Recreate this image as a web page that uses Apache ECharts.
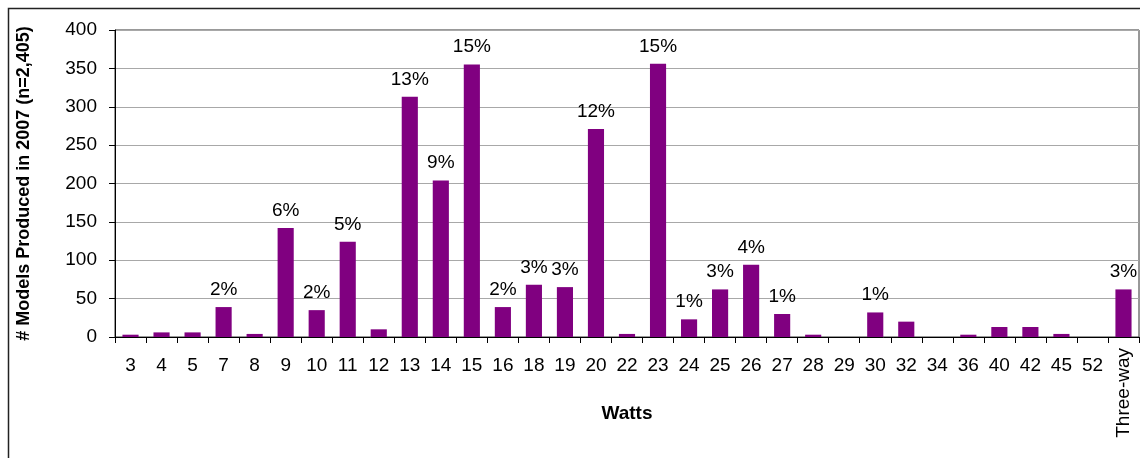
<!DOCTYPE html>
<html>
<head>
<meta charset="utf-8">
<title>Models Produced in 2007 by Wattage</title>
<script src="https://cdn.jsdelivr.net/npm/echarts@6/dist/echarts.min.js"></script>
<style>
  html, body { margin: 0; padding: 0; background: #ffffff; }
  #chart { width: 1140px; height: 458px; }
</style>
</head>
<body>
<div id="chart"></div>
<script>
// Wattage categories on the horizontal axis
const watts = ['3', '4', '5', '7', '8', '9', '10', '11', '12', '13', '14', '15', '16',
  '18', '19', '20', '22', '23', '24', '25', '26', '27', '28', '29', '30', '32', '34',
  '36', '40', '42', '45', '52', 'Three-way'];

// Number of models produced in 2007 for each wattage (n = 2,405)
const models = [3, 6, 6, 39, 4, 142, 35, 124, 10, 313, 204, 355, 39,
  68, 65, 271, 4, 356, 23, 62, 94, 30, 3, 0, 32, 20, 0,
  3, 13, 13, 4, 0, 62];

// Share-of-total labels shown above the bars
const shareLabels = ['', '', '', '2%', '', '6%', '2%', '5%', '', '13%', '9%', '15%', '2%',
  '3%', '3%', '12%', '', '15%', '1%', '3%', '4%', '1%', '', '', '1%', '', '',
  '', '', '', '', '', '3%'];

// Value axis ticks
const yTicks = { min: 0, max: 400, interval: 50 };

const FONT = '"Liberation Sans", Arial, sans-serif';
const ROTATED = 'Three-way';

const chart = echarts.init(document.getElementById('chart'), null, { renderer: 'canvas' });

chart.setOption({
  backgroundColor: '#ffffff',
  animation: false,
  textStyle: { fontFamily: FONT },
  graphic: [{
    type: 'rect',
    left: 6, top: 6,
    shape: { width: 1200, height: 520 },
    style: { fill: 'none', stroke: '#222', lineWidth: 1.5 },
    silent: true, z: -1
  }],
  grid: {
    left: 115, right: 1, top: 30, bottom: 121,
    show: true, borderColor: '#333', borderWidth: 1, backgroundColor: 'transparent'
  },
  xAxis: [{
    type: 'category',
    data: watts,
    name: 'Watts',
    nameLocation: 'middle',
    nameGap: 67,
    nameTextStyle: { fontFamily: FONT, fontSize: 19, fontWeight: 'bold', color: '#000' },
    axisLine: { lineStyle: { color: '#000', width: 1 } },
    axisTick: { show: true, length: 6, lineStyle: { color: '#000' } },
    axisLabel: {
      interval: 0, margin: 19, fontFamily: FONT, fontSize: 19, color: '#000',
      formatter: v => (v === ROTATED ? '' : v)
    },
    splitLine: { show: false }
  }, {
    // Overlay axis carrying only the vertical "Three-way" label
    type: 'category',
    data: watts,
    position: 'bottom',
    axisLine: { show: false },
    axisTick: { show: false },
    splitLine: { show: false },
    axisLabel: {
      interval: 0, rotate: 90, margin: 11, fontFamily: FONT, fontSize: 19, color: '#000',
      formatter: v => (v === ROTATED ? v : '')
    }
  }],
  yAxis: {
    type: 'value',
    min: yTicks.min, max: yTicks.max, interval: yTicks.interval,
    name: '# Models Produced in 2007 (n=2,405)',
    nameLocation: 'middle',
    nameGap: 82,
    nameTextStyle: { fontFamily: FONT, fontSize: 18, fontWeight: 'bold', color: '#000' },
    axisLine: { show: true, lineStyle: { color: '#000', width: 1 } },
    axisTick: { show: true, length: 6, lineStyle: { color: '#000' } },
    axisLabel: { margin: 18, fontFamily: FONT, fontSize: 19, color: '#000' },
    splitLine: { show: true, lineStyle: { color: '#a8a8a8', width: 1 } }
  },
  series: [{
    type: 'bar',
    xAxisIndex: 0,
    data: models,
    barCategoryGap: '48%',
    itemStyle: { color: '#800080' },
    label: {
      show: true,
      position: 'top',
      distance: 8,
      fontFamily: FONT,
      fontSize: 19,
      color: '#000',
      formatter: p => shareLabels[p.dataIndex]
    }
  }]
});
</script>
</body>
</html>
